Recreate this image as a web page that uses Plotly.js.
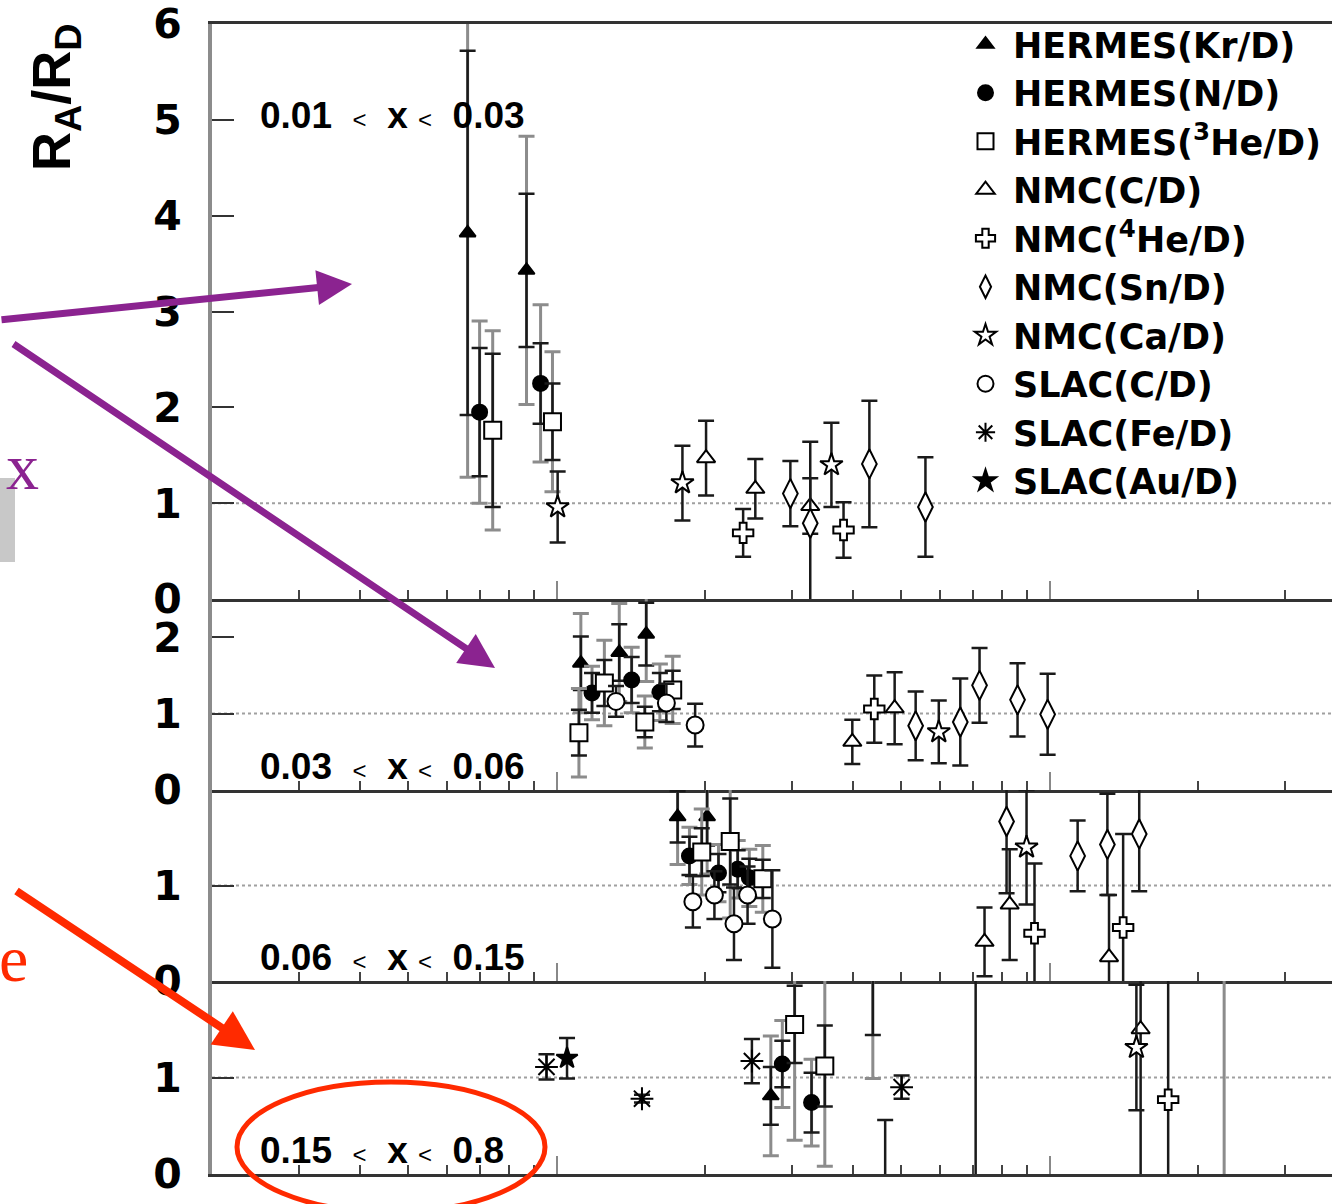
<!DOCTYPE html>
<html><head><meta charset="utf-8">
<script src="https://cdn.plot.ly/plotly-3.0.1.min.js"></script>
<style>html,body{margin:0;padding:0;background:#fff}#chart{width:1332px;height:1204px}</style>
</head><body><div id="chart"></div>
<script>
// ---------------- data (Q^2 in GeV^2, ratio R_A/R_D) ----------------
const q2Range = [0.2, 37.4];
const panelLabels = ['0.01', '0.03', '0.06', '0.15', '0.8'];
const panelTicks = [[0,1,2,3,4,5,6],[0,1,2],[0,1],[0,1]];
const panelRanges = [[0,6],[0,2.5],[0,2],[0,2]];
const refValue = 1;

// HERMES (Kr/D)
const krPanel = [1,1, 2,2,2, 3,3, 4,4];
const krQ2    = [0.660,0.869, 1.12,1.34,1.52, 1.76,2.02, 2.72,4.38];
const krRatio = [3.82,3.43, 1.66,1.80,2.04, 1.72,1.72, 0.81,2.40];
const krStat  = [1.90,0.80, 0.35,0.37,0.41, 0.27,0.30, 0.30,0.96];
const krTot   = [2.55,1.40, 0.65,0.64,0.62, 0.50,0.60, 0.62,1.41];
// HERMES (N/D)
const nPanel = [1,1, 2,2,2, 3,3,3,3, 4,4,4,4];
const nQ2    = [0.698,0.928, 1.18,1.42,1.62, 1.86,2.13,2.33,2.46, 2.87,3.29,4.64,7.08];
const nRatio = [1.95,2.25, 1.27,1.44,1.28, 1.31,1.13,1.17,1.08, 1.14,0.74,-0.40,-1.0];
const nStat  = [0.67,0.42, 0.26,0.30,0.25, 0.20,0.20,0.20,0.20, 0.24,0.31,0.96,4.0];
const nTot   = [0.95,0.82, 0.35,0.43,0.37, 0.30,0.30,0.30,0.30, 0.45,0.45,null,null];
// HERMES (3He/D)
const he3Panel = [1,1, 2,2,2,2, 3,3,3, 4,4,4];
const he3Q2    = [0.742,0.981, 1.11,1.25,1.51,1.72, 1.97,2.25,2.62, 3.04,3.50,22.6];
const he3Ratio = [1.76,1.85, 0.75,1.40,0.89,1.31, 1.35,1.46,1.07, 1.55,1.12,-1.0];
const he3Stat  = [0.80,0.40, 0.30,0.30,0.20,0.25, 0.25,0.45,0.20, 0.40,0.42,null];
const he3Tot   = [1.04,0.73, 0.58,0.56,0.34,0.44, 0.45,0.80,0.35, 1.20,1.04,4.0];
// NMC (C/D)
const cPanel = [1,1,1, 2,2, 3,3,3, 4];
const cQ2    = [2.01,2.53,3.27, 3.98,4.85, 7.38,8.30,13.2, 15.3];
const cRatio = [1.47,1.15,0.97, 0.63,1.07, 0.41,0.80,0.25, 1.50];
const cErr   = [0.39,0.31,0.29, 0.29,0.47, 0.36,0.58,0.65, 1.60];
// NMC (4He/D)
const he4Panel = [1,1, 2, 3,3, 4];
const he4Q2    = [2.39,3.82, 4.41, 9.32,14.1, 17.4];
const he4Ratio = [0.69,0.72, 1.06, 0.50,0.56, 0.77];
const he4Err   = [0.25,0.29, 0.44, 0.73,0.98, 1.50];
// NMC (Sn/D)
const snPanel = [1,1,1,1, 2,2,2,2,2, 3,3,3,3];
const snQ2    = [2.98,3.27,4.31,5.60, 5.35,6.59,7.21,8.61,9.91, 8.18,11.4,13.1,15.2];
const snRatio = [1.10,0.79,1.41,0.96, 0.84,0.89,1.37,1.18,0.99, 1.67,1.31,1.43,1.54];
const snErr   = [0.34,0.85,0.66,0.52, 0.45,0.57,0.49,0.48,0.53, 0.75,0.37,0.53,0.60];
// NMC (Ca/D)
const caPanel = [1,1,1, 2, 3, 4];
const caQ2    = [1.005,1.80,3.61, 5.96, 8.98, 15.0];
const caRatio = [0.96,1.21,1.40, 0.76, 1.40, 1.31];
const caErr   = [0.37,0.39,0.44, 0.41, 0.60, 0.65];
// SLAC (C/D)
const scPanel = [2,2,2, 3,3,3,3,3];
const scQ2    = [1.32,1.67,1.91, 1.89,2.09,2.29,2.44,2.74];
const scRatio = [1.16,1.14,0.85, 0.83,0.90,0.60,0.90,0.65];
const scErr   = [0.20,0.25,0.28, 0.27,0.25,0.38,0.30,0.51];
// SLAC (Fe/D)
const fePanel = [4,4,4,4];
const feQ2    = [0.954,1.49,2.49,5.01];
const feRatio = [1.11,0.78,1.17,0.90];
const feErr   = [0.13,0.04,0.23,0.12];
// SLAC (Au/D)
const auPanel = [4];
const auQ2    = [1.05];
const auRatio = [1.20];
const auErr   = [0.21];

// ---------------- layout geometry ----------------
const W = 1332, H = 1204, L = 212, T = 24, B = 30;
const plotW = W - L, plotH = H - T - B;
const px2x = px => (px - L) / plotW;
const px2y = py => (H - B - py) / plotH;
const panelEdges = [24, 599, 790, 981, 1174];

const series = [
  {name:'HERMES(Kr/D)', panel:krPanel, q2:krQ2, ratio:krRatio, stat:krStat, tot:krTot, symbol:'triangle-up', fill:'#000', size:14},
  {name:'HERMES(N/D)', panel:nPanel, q2:nQ2, ratio:nRatio, stat:nStat, tot:nTot, symbol:'circle', fill:'#000', size:15},
  {name:'HERMES(<sup>3</sup>He/D)', panel:he3Panel, q2:he3Q2, ratio:he3Ratio, stat:he3Stat, tot:he3Tot, symbol:'square', fill:'#fff', size:17},
  {name:'NMC(C/D)', panel:cPanel, q2:cQ2, ratio:cRatio, stat:cErr, tot:null, symbol:'triangle-up', fill:'#fff', size:16},
  {name:'NMC(<sup>4</sup>He/D)', panel:he4Panel, q2:he4Q2, ratio:he4Ratio, stat:he4Err, tot:null, symbol:'cross', fill:'#fff', size:17},
  {name:'NMC(Sn/D)', panel:snPanel, q2:snQ2, ratio:snRatio, stat:snErr, tot:null, symbol:'diamond-tall', fill:'#fff', size:21},
  {name:'NMC(Ca/D)', panel:caPanel, q2:caQ2, ratio:caRatio, stat:caErr, tot:null, symbol:'star', fill:'#fff', size:17},
  {name:'SLAC(C/D)', panel:scPanel, q2:scQ2, ratio:scRatio, stat:scErr, tot:null, symbol:'circle', fill:'#fff', size:17},
  {name:'SLAC(Fe/D)', panel:fePanel, q2:feQ2, ratio:feRatio, stat:feErr, tot:null, symbol:'asterisk-open', fill:'#000', size:19},
  {name:'SLAC(Au/D)', panel:auPanel, q2:auQ2, ratio:auRatio, stat:auErr, tot:null, symbol:'star', fill:'#000', size:16}
];

const traces = [];
const shown = {};
series.forEach(s => {
  for (let p = 1; p <= 4; p++) {
    const idx = s.panel.map((v, i) => v === p ? i : -1).filter(i => i >= 0);
    if (!idx.length) continue;
    const suf = p === 1 ? '' : String(p);
    if (s.tot) {
      const oi = idx.filter(i => s.tot[i] != null);
      if (oi.length) traces.push({
        type:'scatter', mode:'markers', xaxis:'x'+suf, yaxis:'y'+suf,
        x: oi.map(i => s.q2[i]), y: oi.map(i => s.ratio[i]),
        marker:{size:1, color:'rgba(0,0,0,0)'},
        error_y:{type:'data', array: oi.map(i => s.tot[i]), color:'#8c8c8c', thickness:3, width:8},
        showlegend:false, legendgroup:s.name, hoverinfo:'skip'
      });
    }
    traces.push({
      type:'scatter', mode:'markers', xaxis:'x'+suf, yaxis:'y'+suf, name:s.name,
      x: idx.map(i => s.q2[i]), y: idx.map(i => s.ratio[i]),
      marker:{symbol:s.symbol, size:s.size, color:s.fill, line:{color:'#000', width:2}},
      error_y:{type:'data', array: idx.map(i => s.stat[i]), color:'#1a1a1a', thickness:2.5, width:8},
      showlegend: !shown[s.name], legendgroup:s.name
    });
    shown[s.name] = true;
  }
});

const minorVals = [0.3,0.4,0.5,0.6,0.7,0.8,0.9,2,3,4,5,6,7,8,9,20,30];
const layout = {
  width: W, height: H,
  margin: {l:L, r:0, t:T, b:B},
  paper_bgcolor:'#fff', plot_bgcolor:'rgba(0,0,0,0)',
  showlegend: true,
  legend: {x: px2x(958), y: px2y(15), xanchor:'left', yanchor:'top', itemwidth:45,
           font:{family:'DejaVu Sans', size:35, weight:'bold', color:'#000'},
           bgcolor:'rgba(0,0,0,0)', tracegroupgap:0},
  shapes: [], annotations: []
};
for (let p = 1; p <= 4; p++) {
  const suf = p === 1 ? '' : String(p);
  layout['xaxis'+suf] = {
    type:'log', range:[Math.log10(q2Range[0]), Math.log10(q2Range[1])],
    anchor:'y'+suf, domain:[0,1], showticklabels:false, showgrid:false, zeroline:false,
    showline:true, linecolor:'#333', linewidth:3, mirror: p === 1,
    ticks:'inside', tickmode:'array', tickvals:[1,10], ticklen:18, tickwidth:2, tickcolor:'#888',
    minor:{tickmode:'array', tickvals:minorVals, ticks:'inside', ticklen:9, tickwidth:2, tickcolor:'#444'}
  };
  layout['yaxis'+suf] = {
    anchor:'x'+suf, domain:[px2y(panelEdges[p]), px2y(panelEdges[p-1])],
    range: panelRanges[p-1], tickmode:'array', tickvals: panelTicks[p-1],
    ticks:'inside', ticklen:22, tickwidth:2, tickcolor:'#333',
    showline:true, linecolor:'#8c8c8c', linewidth:4, showgrid:false, zeroline:false,
    ticklabelstandoff: 18,
    tickfont:{family:'DejaVu Sans', size:41, weight:'bold', color:'#000'}
  };
  layout.shapes.push({type:'line', xref:'paper', x0:0, x1:1, yref:'y'+suf, y0:refValue, y1:refValue,
                      line:{color:'#a0a0a0', width:2, dash:'dot'}, layer:'below'});
}

// panel labels
const labelY = [115, 766, 957, 1150];
const ltSym = "<span style='font-size:24px;font-weight:normal'>&lt;</span>";
const sep1 = '&nbsp;&nbsp;' + ltSym + '&nbsp;&nbsp;';
const sep2 = '&nbsp;' + ltSym + '&nbsp;&nbsp;';
for (let p = 0; p < 4; p++) {
  layout.annotations.push({
    xref:'paper', yref:'paper', x:px2x(258), y:px2y(labelY[p]), xanchor:'left', yanchor:'middle',
    showarrow:false, font:{family:'Liberation Sans', size:37, color:'#000'},
    text:'<b>' + panelLabels[p] + '</b>' + sep1 + '<b>x</b>' + sep2 + '<b>' + panelLabels[p+1] + '</b>'
  });
}
// y title
layout.annotations.push({
  xref:'paper', yref:'paper', x:px2x(55), y:px2y(97), textangle:-90, showarrow:false,
  xanchor:'center', yanchor:'middle',
  font:{family:'Liberation Sans', size:54, color:'#000'},
  text:'<b>R<sub>A</sub>/R<sub>D</sub></b>'
});
// arrows
const purple = '#8B2390', red = '#FF2A00';
function arrow(hx, hy, tx, ty, color, w) {
  layout.annotations.push({xref:'paper', yref:'paper', x:px2x(hx), y:px2y(hy), ax:tx-hx, ay:ty-hy,
    text:'', showarrow:true, arrowhead:2, arrowsize:1, arrowwidth:w, arrowcolor:color, standoff:0});
}
arrow(352, 284, -20, 320, purple, 7);
arrow(495, 668, 12, 343, purple, 7);
arrow(255, 1050, 15, 890, red, 8);
// side text
layout.annotations.push({xref:'paper', yref:'paper', x:px2x(22), y:px2y(466), xanchor:'center', yanchor:'middle',
  showarrow:false, text:'x', font:{family:'Liberation Serif', size:66, color:purple}});
layout.annotations.push({xref:'paper', yref:'paper', x:px2x(13), y:px2y(958), xanchor:'center', yanchor:'middle',
  showarrow:false, text:'e', font:{family:'Liberation Serif', size:66, color:red}});
// gray block and ellipse
layout.shapes.push({type:'rect', xref:'paper', yref:'paper', x0:px2x(-5), x1:px2x(15), y0:px2y(562), y1:px2y(478),
  fillcolor:'#c8c8c8', line:{width:0}, layer:'below'});
layout.shapes.push({type:'circle', xref:'paper', yref:'paper', x0:px2x(237), x1:px2x(545), y0:px2y(1212), y1:px2y(1082),
  line:{color:red, width:5}});

Plotly.newPlot('chart', traces, layout, {displayModeBar:false, staticPlot:true});
</script></body></html>
